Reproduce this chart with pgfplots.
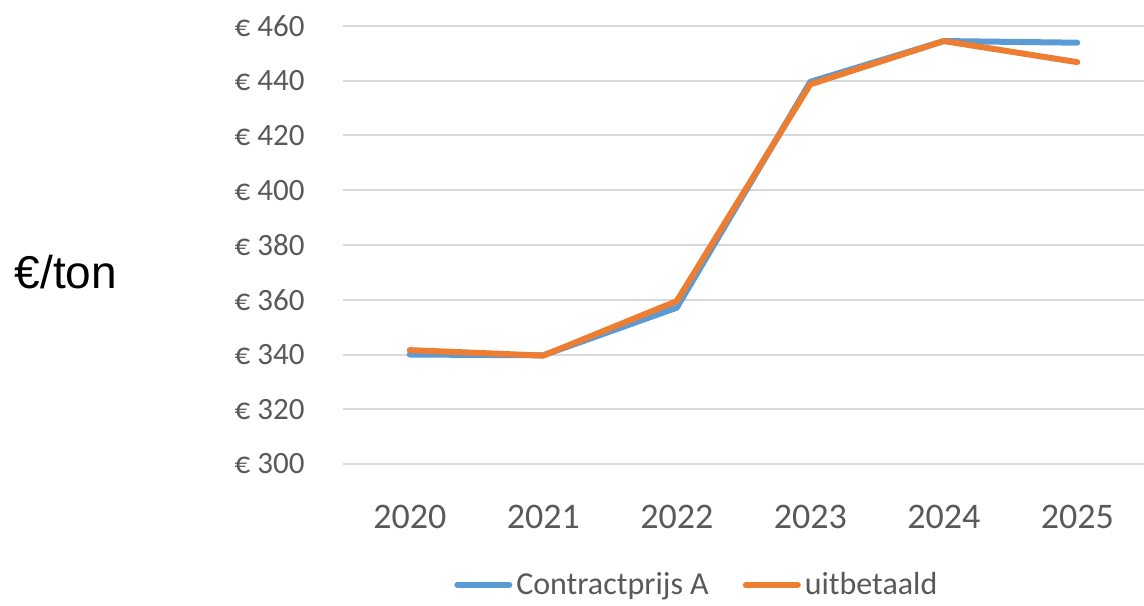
\documentclass[border=0pt]{standalone}
\usepackage{fontspec}
\setmainfont{Carlito}
\newfontfamily\arialfont{Liberation Sans}
\usepackage{pgfplots}
\pgfplotsset{compat=1.18}

\definecolor{xlblue}{HTML}{5B9BD5}
\definecolor{xlorange}{HTML}{ED7D31}
\definecolor{xlgrid}{HTML}{D9D9D9}
\definecolor{xltext}{HTML}{595959}

\begin{document}
\begin{tikzpicture}
\useasboundingbox (0,0) rectangle (572pt,302.5pt);
\begin{axis}[
  at={(171.5pt,70.5pt)}, anchor=south west,
  scale only axis,
  width=400.5pt, height=219pt,
  xmin=-0.5, xmax=5.5,
  ymin=300, ymax=460,
  xtick={0,1,2,3,4,5},
  xticklabels={2020,2021,2022,2023,2024,2025},
  ytick={300,320,...,460},
  /pgf/number format/assume math mode=true,
  yticklabel={€ \pgfmathprintnumber{\tick}},
  axis line style={draw=none},
  major tick length=0pt,
  ymajorgrids,
  grid style={xlgrid, line width=1pt},
  yticklabel style={font=\fontsize{15.5}{18}\selectfont, text=xltext, anchor=east, inner sep=0pt, xshift=-19pt},
  xticklabel style={font=\fontsize{18}{21}\selectfont, text=xltext, anchor=center, inner sep=0pt, yshift=-26.5pt},
  legend columns=2,
  legend style={draw=none, fill=none, at={(0.443,-0.276)}, anchor=center,
    font=\fontsize{16}{19}\selectfont, text=xltext,
    /tikz/every even column/.append style={column sep=15pt}},
  legend image code/.code={\draw[#1, line width=3pt, line cap=round] (0pt,0pt) -- (26pt,0pt);},
]
\addplot[xlblue, line width=3pt, line cap=round, line join=round] coordinates {
  (0,340.0) (1,339.7) (2,357.1) (3,439.6) (4,454.5) (5,453.9)
};
\addlegendentry{Contractprijs A}
\addplot[xlorange, line width=3pt, line cap=round, line join=round] coordinates {
  (0,341.6) (1,339.6) (2,359.5) (3,438.7) (4,454.5) (5,446.8)
};
\addlegendentry{uitbetaald}
\end{axis}
\node[font=\arialfont\fontsize{23}{27}\selectfont, text=black] at (33pt,166.5pt) {€/ton};
\end{tikzpicture}
\end{document}
